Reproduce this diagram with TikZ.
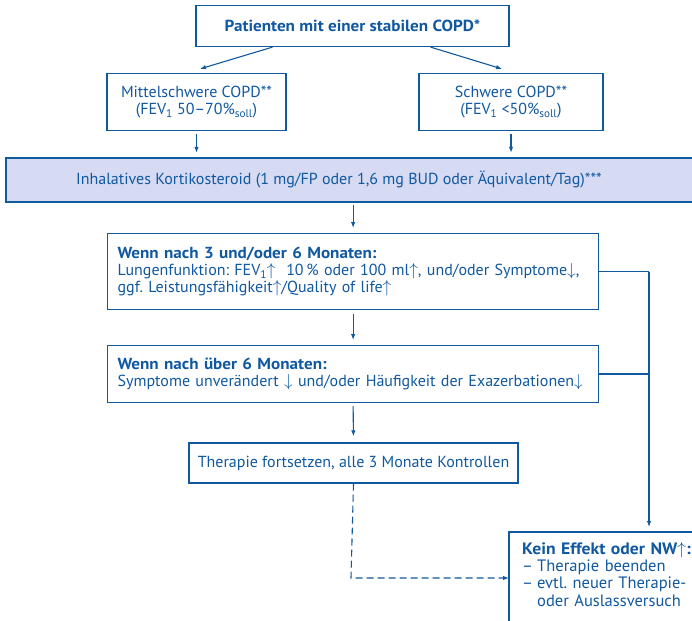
\documentclass[tikz,border=0pt]{standalone}
\usepackage{fontspec}
\setmainfont{PT Sans}[BoldFeatures={FakeStretch=1.07}]
\usetikzlibrary{arrows.meta}
\definecolor{copdblue}{RGB}{16,88,160}
\definecolor{copdfill}{RGB}{214,218,242}
\newcommand{\strich}{\makebox[15pt][l]{–}}
\tikzset{
	box/.style={draw=copdblue, line width=1.2pt, text=copdblue, inner sep=0pt},
	arr/.style={draw=copdblue, line width=1.1pt, -{Latex[length=6pt,width=4.5pt]}},
}
\frenchspacing
\begin{document}
\begin{tikzpicture}[x=1pt,y=-1pt,font=\fontsize{16}{17}\selectfont]
			\useasboundingbox (0,0) rectangle (692,620);
			\clip (0,0) rectangle (692,620);
			% Kopf
			\node[box, minimum width=313, minimum height=41, font=\fontsize{16}{17}\selectfont\bfseries] (patienten) at (352.5,26) {Patienten mit einer stabilen COPD*};
			\node[box, minimum width=179, minimum height=57, align=center] (mittel) at (196.5,102) {Mittelschwere COPD**\\(FEV\textsubscript{1} 50–70\%\textsubscript{soll})};
			\node[box, minimum width=184, minimum height=57, align=center] (schwer) at (511,102) {Schwere COPD**\\(FEV\textsubscript{1} <50\%\textsubscript{soll})};
			% Balken
			\fill[copdfill] (6,158) rectangle (700,202);
			\draw[copdblue, line width=1.2pt] (700,158) -- (6,158) -- (6,202) -- (700,202);
			\node[text=copdblue, minimum height=44, inner sep=0pt] (ics) at (339,180) {Inhalatives Kortikosteroid (1 mg/FP oder 1,6 mg BUD oder Äquivalent/Tag)***};
			% Kontrollen
			\node[box, anchor=north west, text width=471, inner xsep=10pt, minimum height=76, align=left] (drei) at (107,233) {\textbf{Wenn nach 3 und/oder 6 Monaten:}\\Lungenfunktion: FEV\textsubscript{1}$\uparrow$\ \ 10\,\% oder 100 ml$\uparrow$, und/oder Symptome$\downarrow$,\\ggf. Leistungsfähigkeit$\uparrow$/Quality of life$\uparrow$};
			\node[box, anchor=north west, text width=471, inner xsep=10pt, minimum height=57, align=left] (sechs) at (107,345) {\textbf{Wenn nach über 6 Monaten:}\\Symptome unverändert $\downarrow$ und/oder Häufigkeit der Exazerbationen$\downarrow$};
			\node[box, minimum width=329, minimum height=40] (weiter) at (353.5,463) {Therapie fortsetzen, alle 3 Monate Kontrollen};
			\node[text=copdblue, anchor=north west, text width=175, inner xsep=13pt, inner ysep=10pt, align=left, font=\fontsize{16.5}{17.3}\selectfont] (kein) at (509,532) {\textbf{Kein Effekt oder NW$\uparrow$:}\\\strich Therapie beenden\\\strich evtl. neuer Therapie-\\\hspace*{15pt}oder Auslassversuch};
			\draw[copdblue, line width=1.2pt] (kein.north west) rectangle ++(200,120);
			% Pfeile
			\coordinate (rail) at (649,527);
			\coordinate (knick) at (351,578);
			\draw[arr] ([xshift=-80pt]patienten.south) -- ([xshift=3.5pt,yshift=4pt]mittel.north);
			\draw[arr] ([xshift=78pt]patienten.south) -- ([xshift=-9pt,yshift=4pt]schwer.north);
			\draw[arr, shorten <=3pt, shorten >=5pt] (mittel.south) -- (mittel.south |- ics.north);
			\draw[arr, shorten <=3pt, shorten >=5pt] (schwer.south) -- (schwer.south |- ics.north);
			\draw[arr, shorten <=3pt, shorten >=5pt] (drei.north |- ics.south) -- (drei.north);
			\draw[arr, shorten <=4pt, shorten >=5pt] (drei.south) -- (sechs.north);
			\draw[arr, shorten <=3pt, shorten >=6pt] (sechs.south) -- (weiter.north);
			\draw[copdblue, line width=1.1pt] (drei.east) -- (drei.east -| rail);
			\draw[copdblue, line width=2pt] (sechs.east) -- (sechs.east -| rail);
			\draw[arr] (drei.east -| rail) -- (rail);
			\draw[arr, dash pattern=on 7pt off 4pt] (weiter.south) -- (knick) -- (knick -| kein.west);
		\end{tikzpicture}
\end{document}
